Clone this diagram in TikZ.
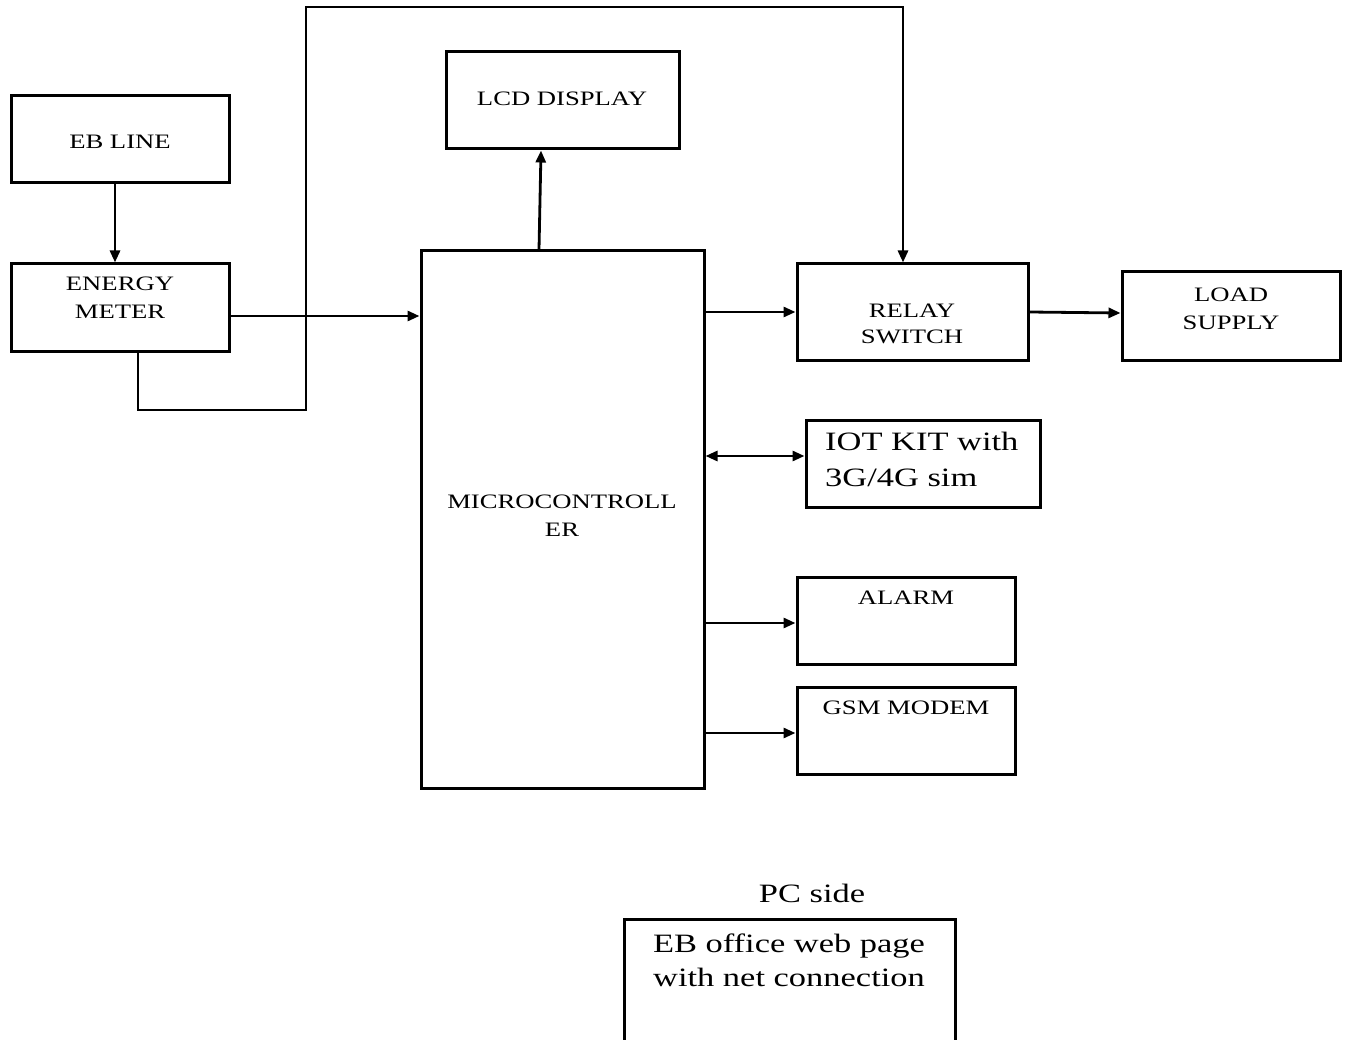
\documentclass[tikz,border=0pt]{standalone}
\usepackage{fontspec}
\setmainfont{Liberation Serif}[FakeStretch=1.3]
\usetikzlibrary{arrows.meta,calc}
\newcommand\smallf{\fontsize{20.5}{28}\selectfont}
\newcommand\bigf{\fontsize{26.5}{35}\selectfont}
\begin{document}
\begin{tikzpicture}[x=1pt,y=-1pt,
  box/.style={draw,line width=3pt,rectangle,inner sep=0pt},
  lbl/.style={inner sep=0pt,align=center,font=\smallf},
  biglbl/.style={inner sep=0pt,align=center,font=\bigf},
  arr/.style={line width=2.8pt,-{Triangle[length=12pt,width=10pt]}},
  darr/.style={line width=2.8pt,{Triangle[length=12pt,width=10pt]}-{Triangle[length=12pt,width=10pt]}},
  wire/.style={line width=2.8pt}]
\useasboundingbox (0,0) rectangle (1351,1040);
% boxes
\node[box,minimum width=218pt,minimum height=87pt] (ebline) at (120,139.5) {};
\node[box,minimum width=218pt,minimum height=87pt] (meter) at (120,307.5) {};
\node[box,minimum width=233pt,minimum height=97pt] (lcd) at (562.5,100.5) {};
\node[box,minimum width=283pt,minimum height=537pt] (mcu) at (562.5,519.5) {};
\node[box,minimum width=231pt,minimum height=96pt] (relay) at (912.5,312) {};
\node[box,minimum width=218pt,minimum height=88pt] (load) at (1231,316) {};
\node[box,minimum width=234pt,minimum height=87pt] (iot) at (923,463.5) {};
\node[box,minimum width=218pt,minimum height=87pt] (alarm) at (906,620.5) {};
\node[box,minimum width=218pt,minimum height=87pt] (gsm) at (906,730.5) {};
\node[box,minimum width=331pt,minimum height=141pt] (eboffice) at (789.5,989.5) {};
% texts
\node[lbl] (tebline) at (120,141.5) {EB LINE};
\node[lbl] (tmeter) at (120,297.5) {ENERGY\\METER};
\node[lbl] (tlcd) at (562,98.5) {LCD DISPLAY};
\node[lbl] (tmcu) at (562,515.5) {MICROCONTROLL\\ER};
\node[lbl,font=\fontsize{20.5}{26}\selectfont] (trelay) at (912,323.5) {RELAY\\SWITCH};
\node[lbl] (tload) at (1231,308.5) {LOAD\\SUPPLY};
\node[biglbl,align=left,anchor=west,font=\fontsize{26.5}{36}\selectfont] (tiot) at (825,459.5) {IOT KIT with\\3G/4G sim};
\node[lbl] (talarm) at (906,597.5) {ALARM};
\node[lbl] (tgsm) at (906,707.5) {GSM MODEM};
\node[biglbl] (tpc) at (812,893) {PC side};
\node[biglbl,font=\fontsize{26.5}{34}\selectfont] (toffice) at (789,960.5) {EB office web page\\with net connection};
% connectors
\draw[arr] ([xshift=-5pt]ebline.south) -- ([xshift=-5pt]meter.north);
\draw[arr] (meter.east |- 0,316) -- (mcu.west |- 0,316);
\draw[arr] (meter.south -| 138,0) -- (138,410) -- (306,410) -- (306,7) -- (903,7) -- (relay.north -| 903,0);
\draw[arr] (mcu.north -| 539,0) -- (lcd.south -| 541,0);
\draw[arr] (mcu.east |- 0,312) -- (relay.west |- 0,312);
\draw[arr] (relay.east |- 0,312) -- (load.west |- 0,313);
\draw[darr] (mcu.east |- 0,456) -- (iot.west |- 0,456);
\draw[arr] (mcu.east |- 0,623) -- (alarm.west |- 0,623);
\draw[arr] (mcu.east |- 0,733) -- (gsm.west |- 0,733);
\end{tikzpicture}
\end{document}
